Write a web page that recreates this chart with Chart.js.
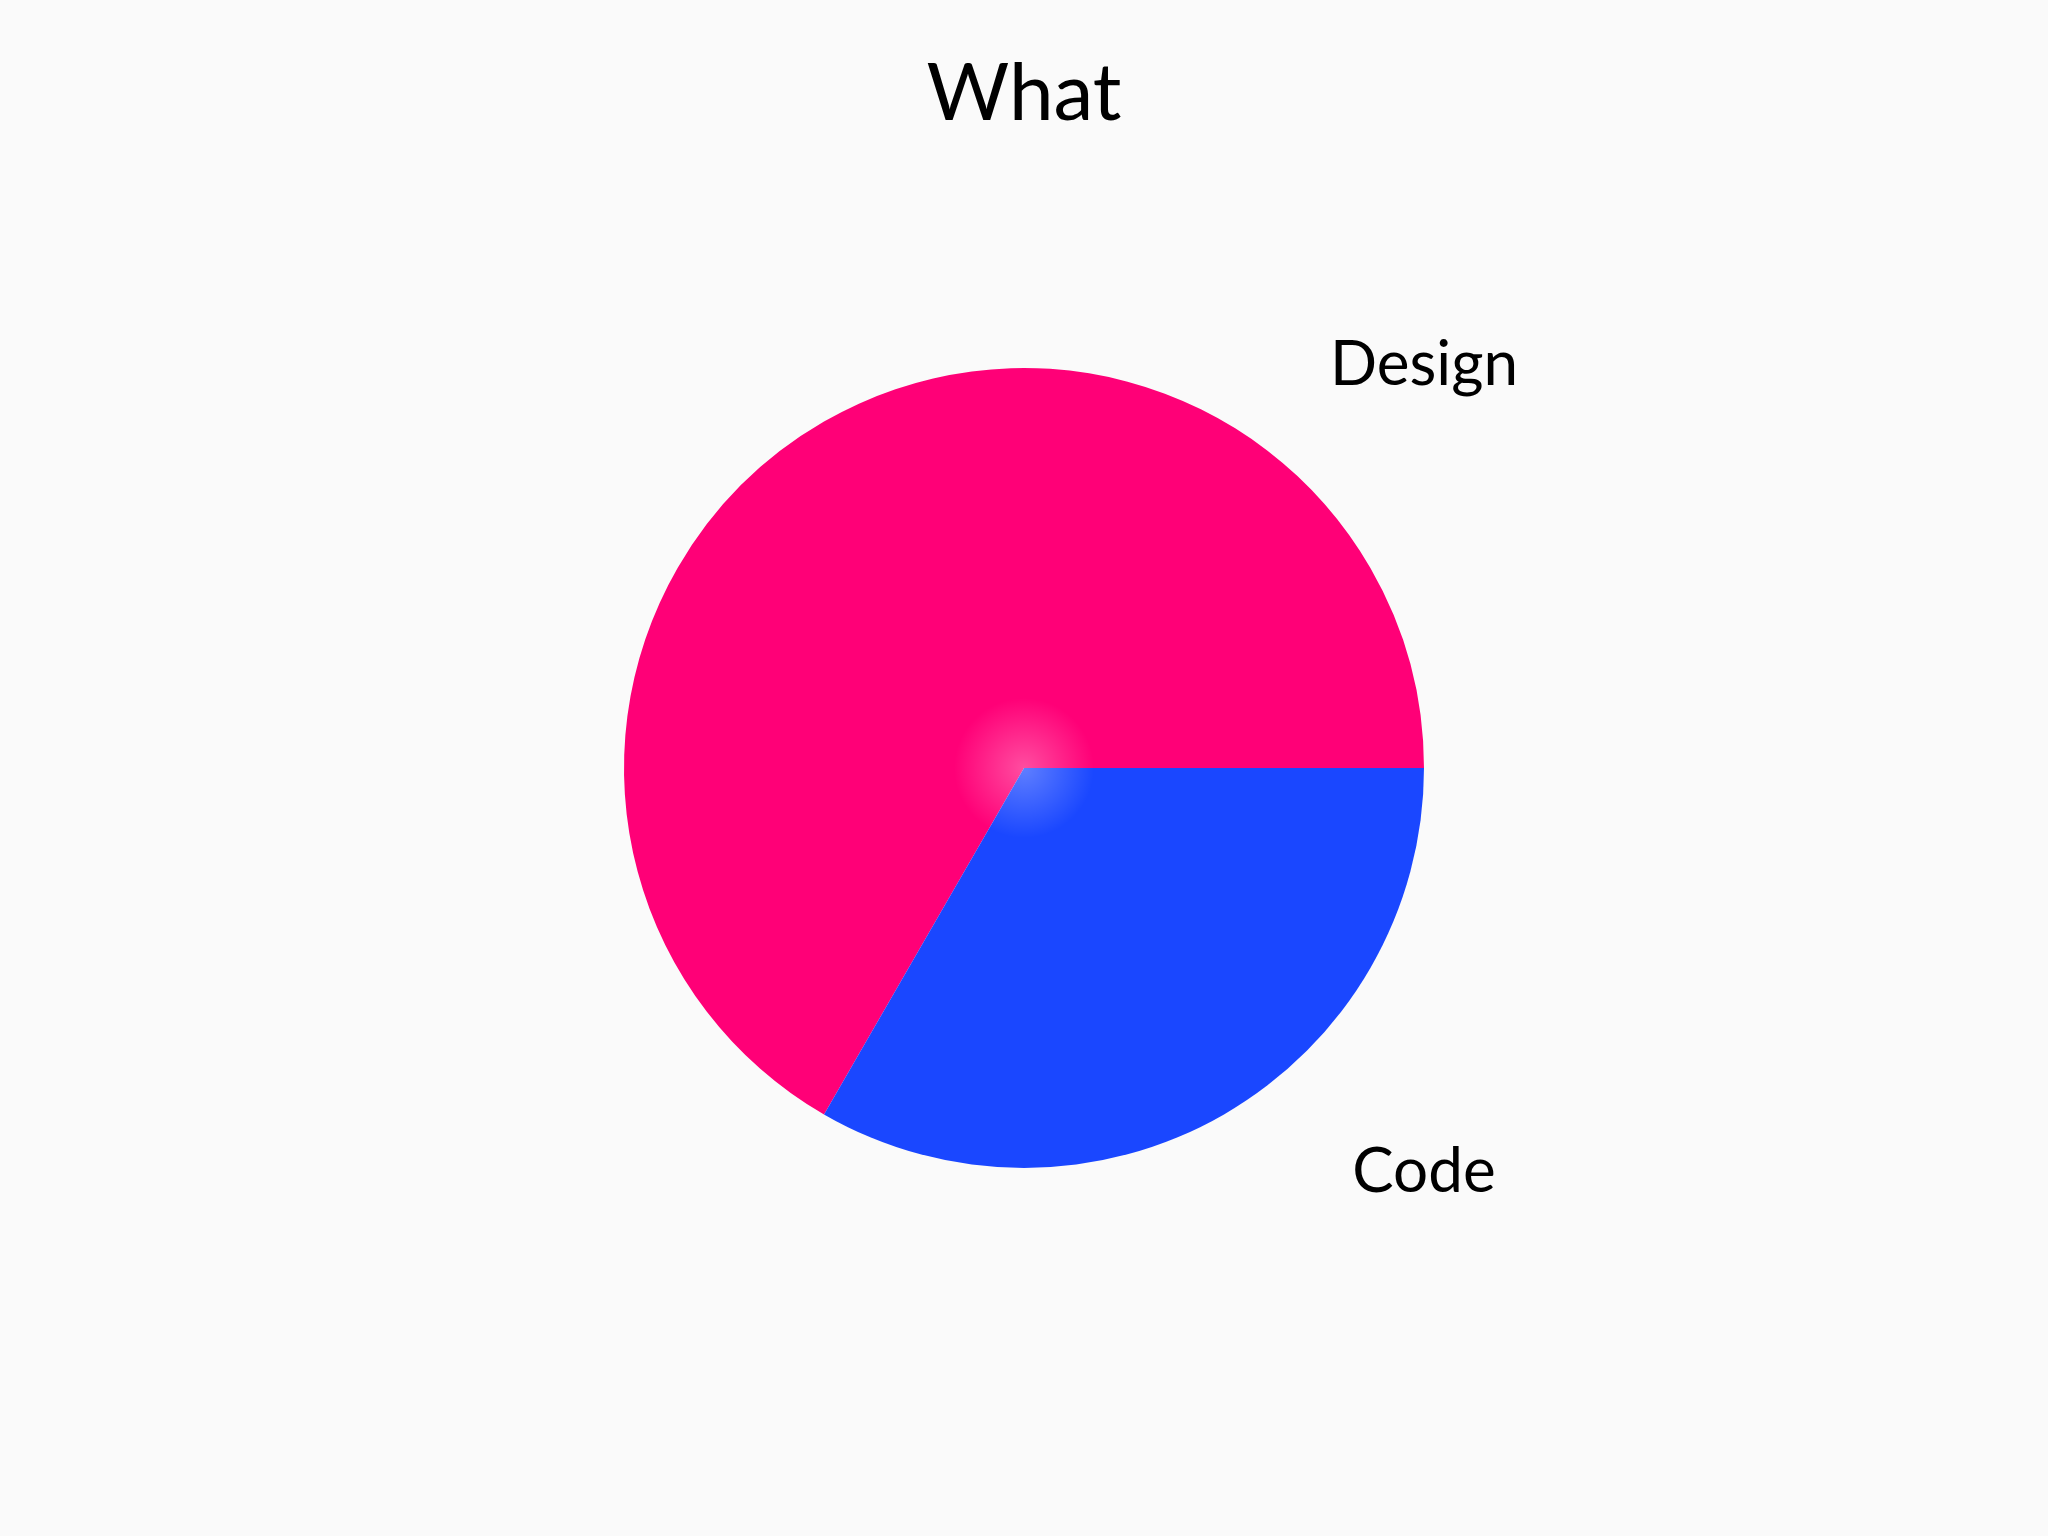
<!DOCTYPE html>
<html>
<head>
<meta charset="utf-8">
<script src="https://cdn.jsdelivr.net/npm/chart.js@4/dist/chart.umd.min.js"></script>
<style>
html,body{margin:0;padding:0;background:#fafafa;}
#wrap{width:2048px;height:1536px;}
</style>
</head>
<body>
<div id="wrap"><canvas id="c" width="2048" height="1536"></canvas></div>
<script>
const categories = ["Design", "Code"];
const values = [2, 1];
const colors = ["#FF0077", "#1A47FF"];
const chartTitle = "What";

const FONT = "Lato, 'Noto Sans', sans-serif";

const labelPlugin = {
  id: 'outerLabels',
  afterDatasetsDraw(chart) {
    const meta = chart.getDatasetMeta(0);
    const arc = meta.data[0];
    if (!arc) return;
    const cx = arc.x, cy = arc.y, r = arc.outerRadius;
    const ctx = chart.ctx;
    ctx.save();
    // soft glow at centre
    const g = ctx.createRadialGradient(cx, cy, 0, cx, cy, 70);
    g.addColorStop(0, 'rgba(255,255,255,0.3)');
    g.addColorStop(1, 'rgba(255,255,255,0)');
    ctx.fillStyle = g;
    ctx.beginPath();
    ctx.arc(cx, cy, 70, 0, Math.PI * 2);
    ctx.fill();
    ctx.fillStyle = '#000';
    ctx.font = "400 62px " + FONT;
    ctx.textAlign = 'center';
    ctx.textBaseline = 'middle';
    ctx.fillText(categories[0], cx + r, cy - r - 3);
    ctx.fillText(categories[1], cx + r, cy + r + 4);
    ctx.restore();
  }
};

new Chart(document.getElementById('c'), {
  type: 'pie',
  data: {
    labels: categories,
    datasets: [{
      data: values,
      backgroundColor: colors,
      borderWidth: 0,
      hoverOffset: 0
    }]
  },
  options: {
    responsive: false,
    animation: false,
    rotation: 210,
    layout: { padding: { top: 0, bottom: 368, left: 0, right: 0 } },
    plugins: {
      legend: { display: false },
      tooltip: { enabled: false },
      title: {
        display: true,
        text: chartTitle,
        color: '#000',
        font: { family: FONT, size: 80, weight: '400', lineHeight: 1.2 },
        padding: { top: 46, bottom: 226 }
      }
    }
  },
  plugins: [{
    id: 'bg',
    beforeDraw(chart) {
      const ctx = chart.ctx;
      ctx.save();
      ctx.fillStyle = '#fafafa';
      ctx.fillRect(0, 0, chart.width, chart.height);
      ctx.restore();
    }
  }, labelPlugin]
});
</script>
</body>
</html>
